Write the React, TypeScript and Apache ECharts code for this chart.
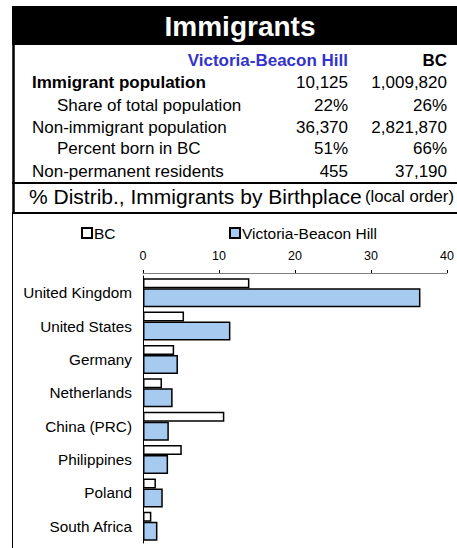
import React, { useEffect, useRef } from "react";
import * as echarts from "echarts";

const categories = [
  "United Kingdom",
  "United States",
  "Germany",
  "Netherlands",
  "China (PRC)",
  "Philippines",
  "Poland",
  "South Africa",
];
const bcValues = [14.0, 5.4, 4.1, 2.5, 10.7, 5.1, 1.7, 1.1];
const localValues = [36.5, 11.5, 4.6, 3.9, 3.4, 3.3, 2.6, 1.9];
const xTicks = [0, 10, 20, 30, 40];

const rowLabels = [
  "Immigrant population",
  "Share of total population",
  "Non-immigrant population",
  "Percent born in BC",
  "Non-permanent residents",
];
const rowIndent = [false, true, false, true, false];
const rowBold = [true, false, false, false, false];
const localColumn = ["10,125", "22%", "36,370", "51%", "455"];
const bcColumn = ["1,009,820", "26%", "2,821,870", "66%", "37,190"];

const FONT = "'Liberation Sans', Arial, Helvetica, sans-serif";

export default function App() {
  const ref = useRef<HTMLDivElement>(null);
  useEffect(() => {
    if (!ref.current) return;
    const chart = echarts.init(ref.current, null, { renderer: "svg" });
    const rowY = [82, 105, 127, 148, 171];
    const graphics: any[] = [
      { type: "rect", shape: { x: 12, y: 6, width: 470, height: 39 }, style: { fill: "#000" } },
      {
        type: "text",
        x: 240,
        y: 26,
        style: {
          text: "Immigrants",
          fill: "#fff",
          font: `bold 28px ${FONT}`,
          textAlign: "center",
          textVerticalAlign: "middle",
        },
      },
      { type: "line", shape: { x1: 13.5, y1: 6, x2: 13.5, y2: 213 }, style: { stroke: "#000", lineWidth: 2.5 } },
      { type: "line", shape: { x1: 12.5, y1: 213, x2: 12.5, y2: 548 }, style: { stroke: "#000", lineWidth: 1 } },
      { type: "line", shape: { x1: 12, y1: 183, x2: 470, y2: 183 }, style: { stroke: "#000", lineWidth: 2 } },
      { type: "line", shape: { x1: 12, y1: 213, x2: 470, y2: 213 }, style: { stroke: "#000", lineWidth: 2 } },
      {
        type: "text",
        x: 348,
        y: 60,
        style: {
          text: "Victoria-Beacon Hill",
          fill: "#3333cc",
          font: `bold 17px ${FONT}`,
          textAlign: "right",
          textVerticalAlign: "middle",
        },
      },
      {
        type: "text",
        x: 447,
        y: 60,
        style: { text: "BC", fill: "#000", font: `bold 17px ${FONT}`, textAlign: "right", textVerticalAlign: "middle" },
      },
      {
        type: "text",
        x: 29,
        y: 196,
        style: {
          text: "{a|% Distrib., Immigrants by Birthplace} {b|(local order)}",
          textVerticalAlign: "middle",
          rich: {
            a: { font: `21px ${FONT}`, fill: "#000" },
            b: { font: `16.7px ${FONT}`, fill: "#000" },
          },
        },
      },
    ];
    rowLabels.forEach((lab, i) => {
      graphics.push({
        type: "text",
        x: rowIndent[i] ? 57 : 32,
        y: rowY[i],
        style: {
          text: lab,
          fill: "#000",
          font: `${rowBold[i] ? "bold " : ""}17px ${FONT}`,
          textVerticalAlign: "middle",
        },
      });
      graphics.push({
        type: "text",
        x: 348,
        y: rowY[i],
        style: { text: localColumn[i], fill: "#000", font: `17px ${FONT}`, textAlign: "right", textVerticalAlign: "middle" },
      });
      graphics.push({
        type: "text",
        x: 447,
        y: rowY[i],
        style: { text: bcColumn[i], fill: "#000", font: `17px ${FONT}`, textAlign: "right", textVerticalAlign: "middle" },
      });
    });

    const legendCommon = {
      top: 220,
      itemWidth: 10,
      itemHeight: 10,
      icon: "rect",
      textStyle: { fontSize: 15.5, color: "#000", fontFamily: FONT, padding: [0, 0, 0, -3] },
    };

    chart.setOption({
      animation: false,
      textStyle: { fontFamily: FONT },
      graphic: graphics,
      legend: [
        { ...legendCommon, data: ["BC"], left: 76 },
        { ...legendCommon, data: ["Victoria-Beacon Hill"], left: 224 },
      ],
      grid: { left: 143, right: 7, top: 276, bottom: 5, containLabel: false },
      xAxis: {
        type: "value",
        position: "top",
        min: xTicks[0],
        max: xTicks[xTicks.length - 1],
        interval: 10,
        offset: 3,
        axisLine: { show: true, lineStyle: { color: "#808080", width: 1 } },
        axisTick: { show: true, inside: false, length: 3, lineStyle: { color: "#000" } },
        axisLabel: { fontSize: 12.5, color: "#000", margin: 11, fontFamily: FONT },
        splitLine: { show: false },
      },
      yAxis: {
        type: "category",
        inverse: true,
        data: categories,
        axisLine: { show: true, lineStyle: { color: "#000", width: 1 } },
        axisTick: { show: false },
        axisLabel: { fontSize: 15.3, color: "#000", margin: 11, fontFamily: FONT },
      },
      series: [
        {
          name: "BC",
          type: "bar",
          data: bcValues,
          barWidth: 10,
          barGap: 0,
          itemStyle: { color: "#ffffff", borderColor: "#000", borderWidth: 1.5 },
        },
        {
          name: "Victoria-Beacon Hill",
          type: "bar",
          data: localValues,
          barWidth: 19,
          barGap: 0,
          itemStyle: { color: "#a6caf0", borderColor: "#000", borderWidth: 1.5 },
        },
      ],
    });
    return () => chart.dispose();
  }, []);
  return (
    <div
      ref={ref}
      style={{ position: "fixed", left: 0, top: 0, width: 457, height: 548, background: "#fff" }}
    />
  );
}
